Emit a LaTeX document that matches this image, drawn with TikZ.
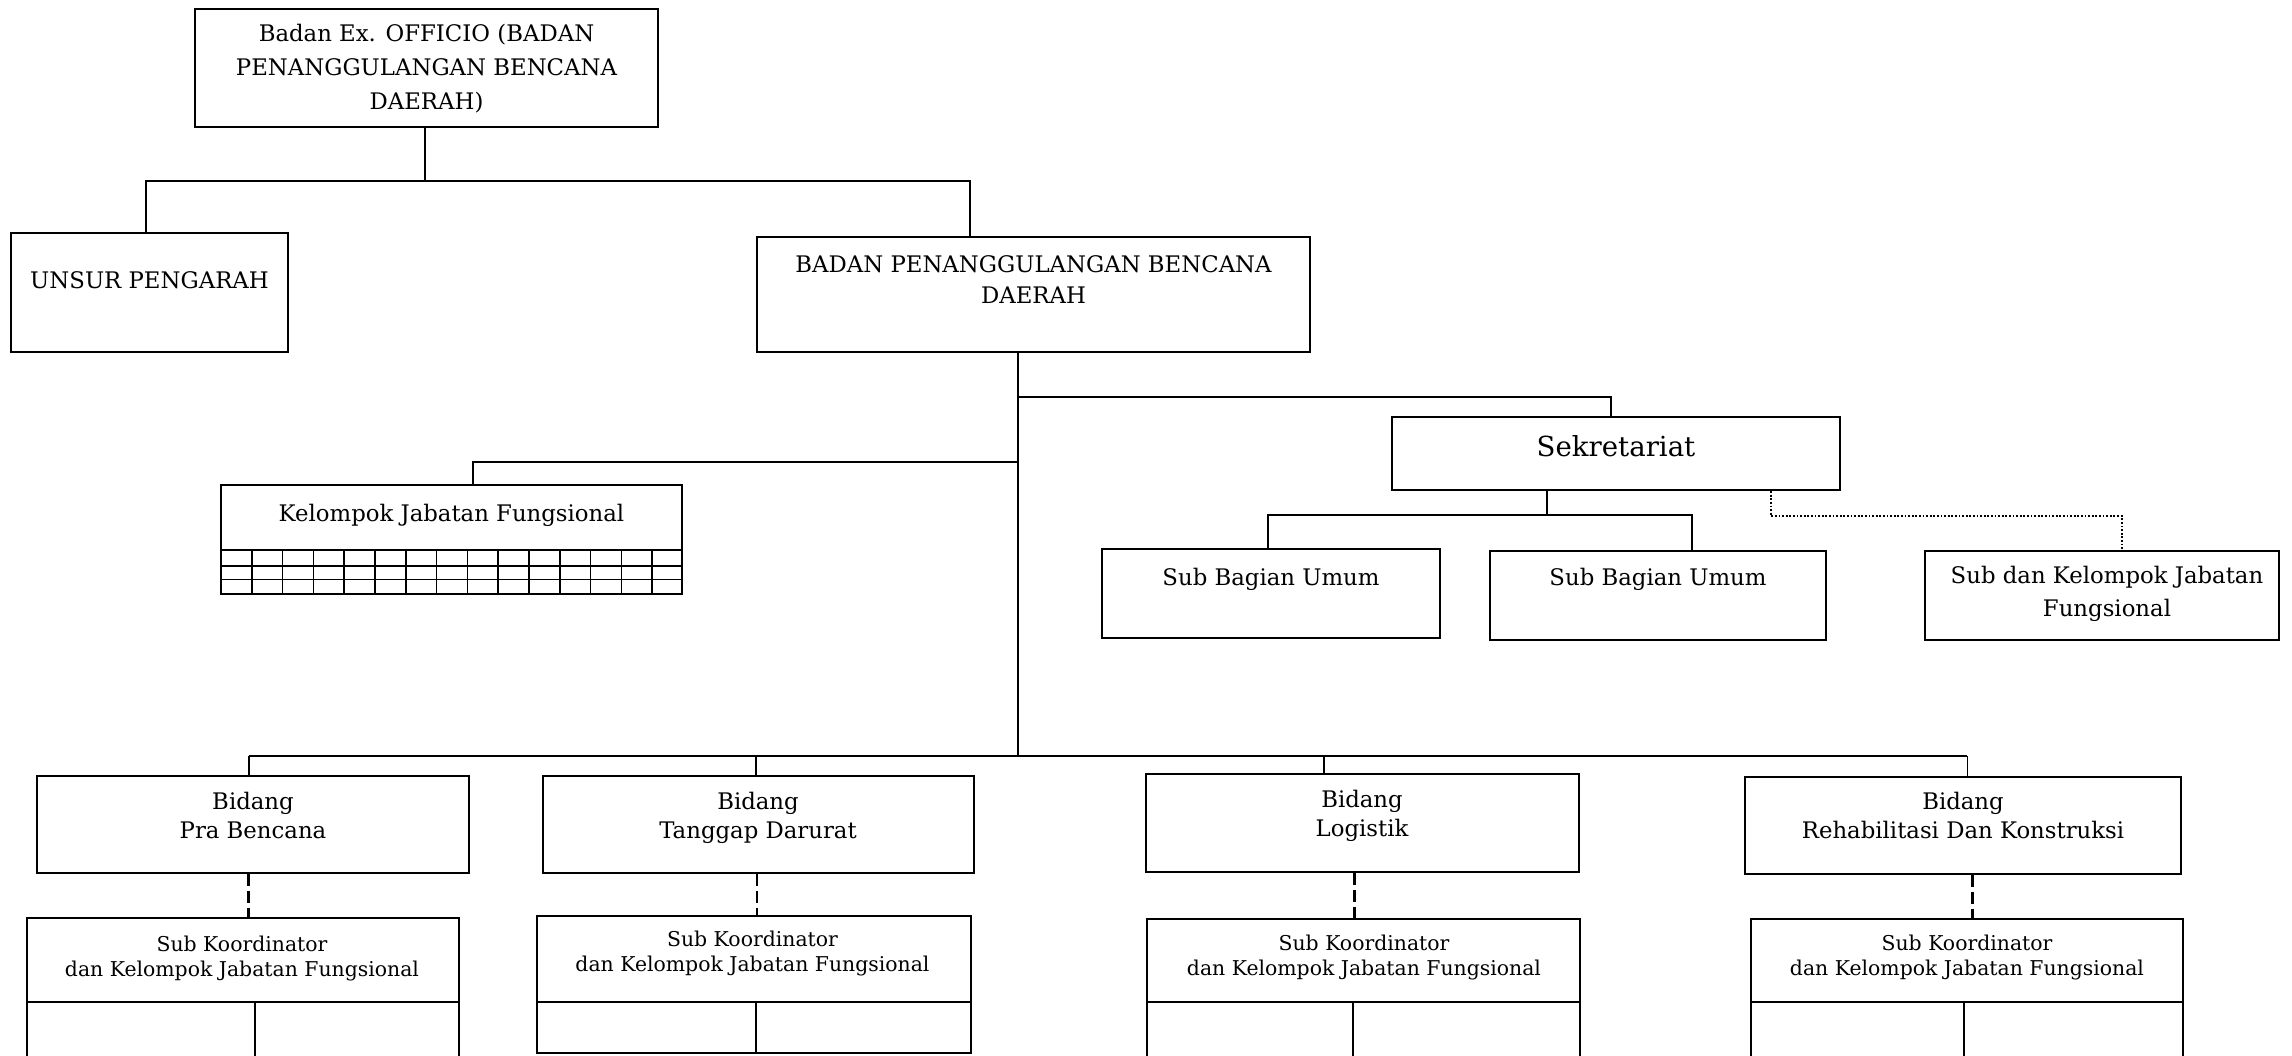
\documentclass[tikz,border=0pt]{standalone}
\usepackage{fontspec}
\setmainfont{DejaVu Serif}
\usetikzlibrary{fit}
\begin{document}
\begin{tikzpicture}[x=0.5pt,y=-0.5pt,
  box/.style={draw, line width=1.1pt, inner sep=0pt},
  link/.style={line width=0.9pt},
  gridline/.style={line width=0.8pt},
  dashlink/.style={line width=1.3pt, dash pattern=on 5.8pt off 2.6pt},
  dotlink/.style={line width=1pt, dash pattern=on 0.9pt off 0.9pt},
  lbl/.style={anchor=base, inner sep=0pt, align=center},
  fa/.style={lbl, font=\fontsize{11.4}{17}\selectfont},
  fb/.style={lbl, font=\fontsize{11.4}{15.8}\selectfont},
  fc/.style={lbl, font=\fontsize{11.4}{14.2}\selectfont},
  fd/.style={lbl, font=\fontsize{11.4}{16.5}\selectfont},
  fsek/.style={lbl, font=\fontsize{13.8}{16}\selectfont},
  fsk/.style={lbl, font=\fontsize{10.2}{12.5}\selectfont},
]
\useasboundingbox (0,0) rectangle (2292,1055);
\clip (0,0) rectangle (2292,1055);

% ---------- boxes ----------
\node[box, fit={(195,9) (658,127)}] (top) {};
\node[box, fit={(11,233) (288,352)}] (unsur) {};
\node[box, fit={(757,237) (1310,352)}] (bpbd) {};
\node[box, fit={(1392,417) (1840,490)}] (sek) {};
\node[box, fit={(221,485) (682,550)}] (kel) {};
\node[box, fit={(221,550) (682,594)}] (kelgrid) {};
\node[box, fit={(1102,549) (1440,638)}] (sub1) {};
\node[box, fit={(1490,551) (1826,640)}] (sub2) {};
\node[box, fit={(1925,551) (2279,640)}] (sub3) {};

\node[box, fit={(37,776) (469,873)}] (b1) {};
\node[box, fit={(543,776) (974,873)}] (b2) {};
\node[box, fit={(1146,774) (1579,872)}] (b3) {};
\node[box, fit={(1745,777) (2181,874)}] (b4) {};

\node[box, fit={(27,918) (459,1002)}] (s1) {};
\node[box, fit={(537,916) (971,1002)}] (s2) {};
\node[box, fit={(1147,919) (1580,1002)}] (s3) {};
\node[box, fit={(1751,919) (2183,1002)}] (s4) {};
\node[box, fit={(27,1002) (459,1070)}] (s1low) {};
\node[box, fit={(537,1002) (971,1053)}] (s2low) {};
\node[box, fit={(1147,1002) (1580,1070)}] (s3low) {};
\node[box, fit={(1751,1002) (2183,1070)}] (s4low) {};

% grid under the functional group box
\foreach \yy in {566,579.5} \draw[gridline] (221,\yy) -- (682,\yy);
\foreach \i in {1,...,14} \draw[gridline] ({221+\i*30.8},550) -- ({221+\i*30.8},594);

% lower compartments
\coordinate (dv1) at (255,1002);
\coordinate (dv2) at (756,1002);
\coordinate (dv3) at (1353,1002);
\coordinate (dv4) at (1964,1002);
\draw[link] (s1low.north -| dv1) -- (s1low.south -| dv1);
\draw[link] (s2low.north -| dv2) -- (s2low.south -| dv2);
\draw[link] (s3low.north -| dv3) -- (s3low.south -| dv3);
\draw[link] (s4low.north -| dv4) -- (s4low.south -| dv4);

% ---------- labels (base = baseline of the last line) ----------
\node[fa] (top-t) at (426.5,109.3) {Badan Ex. OFFICIO (BADAN\\PENANGGULANGAN BENCANA\\DAERAH)};
\node[fa] (unsur-t) at (149.5,288) {UNSUR PENGARAH};
\node[fb] (bpbd-t) at (1033.5,303.7) {BADAN PENANGGULANGAN BENCANA\\DAERAH};
\node[fsek] (sek-t) at (1616,456.7) {Sekretariat};
\node[fa] (kel-t) at (451.5,521.7) {Kelompok Jabatan Fungsional};
\node[fa] (sub1-t) at (1271,585) {Sub Bagian Umum};
\node[fa] (sub2-t) at (1658,585) {Sub Bagian Umum};
\node[fd] (sub3-t) at (2107,616.7) {Sub dan Kelompok Jabatan\\Fungsional};

\node[fc] (b1-t) at (253,838.3) {Bidang\\Pra Bencana};
\node[fc] (b2-t) at (758,838) {Bidang\\Tanggap Darurat};
\node[fc] (b3-t) at (1362,836) {Bidang\\Logistik};
\node[fc] (b4-t) at (1963,838) {Bidang\\Rehabilitasi Dan Konstruksi};

\node[fsk] (s1-t) at (242,976) {Sub Koordinator\\dan Kelompok Jabatan Fungsional};
\node[fsk] (s2-t) at (752.5,971.7) {Sub Koordinator\\dan Kelompok Jabatan Fungsional};
\node[fsk] (s3-t) at (1364,975) {Sub Koordinator\\dan Kelompok Jabatan Fungsional};
\node[fsk] (s4-t) at (1967,975) {Sub Koordinator\\dan Kelompok Jabatan Fungsional};

% ---------- connectors ----------
% top level
\coordinate (busA) at (425,181);
\coordinate (busAl) at (146,181);
\coordinate (busAr) at (970,181);
\draw[link] (top.south -| busA) -- (busA);
\draw[link] (unsur.north -| busAl) -- (busAl) -- (busAr) -- (bpbd.north -| busAr);

% main trunk
\coordinate (trunk) at (1018,756);
\draw[link] (bpbd.south -| trunk) -- (trunk);

% secretariat branch
\coordinate (sekIn) at (1611,397);
\draw[link] (sekIn -| trunk) -- (sekIn) -- (sek.north -| sekIn);

% functional group branch
\coordinate (kelIn) at (472.7,462);
\draw[link] (kelIn -| trunk) -- (kelIn) -- (kel.north -| kelIn);

% secretariat sub units
\coordinate (sekBus) at (1546.6,515);
\coordinate (sekBusL) at (1268,515);
\coordinate (sekBusR) at (1691.6,515);
\draw[link] (sek.south -| sekBus) -- (sekBus);
\draw[link] (sub1.north -| sekBusL) -- (sekBusL) -- (sekBusR) -- (sub2.north -| sekBusR);

% dotted coordination line
\coordinate (dotA) at (1771,516);
\coordinate (dotB) at (2121.7,516);
\draw[dotlink] (sek.south -| dotA) -- (dotA) -- (dotB) -- (sub3.north -| dotB);

% field divisions
\coordinate (bus1) at (248.7,756);
\coordinate (bus2) at (755.7,756);
\coordinate (bus3) at (1324,756);
\coordinate (bus4) at (1967.4,756);
\draw[link] (bus1) -- (bus4);
\draw[link] (bus1) -- (b1.north -| bus1);
\draw[link] (bus2) -- (b2.north -| bus2);
\draw[link] (bus3) -- (b3.north -| bus3);
\draw[link] (bus4) -- (b4.north -| bus4);

% dashed links to coordinators
\coordinate (d1) at (248.7,900);
\coordinate (d2) at (757,900);
\coordinate (d3) at (1354.7,900);
\coordinate (d4) at (1972.7,900);
\draw[dashlink] (b1.south -| d1) -- (s1.north -| d1);
\draw[dashlink] (b2.south -| d2) -- (s2.north -| d2);
\draw[dashlink] (b3.south -| d3) -- (s3.north -| d3);
\draw[dashlink] (b4.south -| d4) -- (s4.north -| d4);
\end{tikzpicture}
\end{document}
